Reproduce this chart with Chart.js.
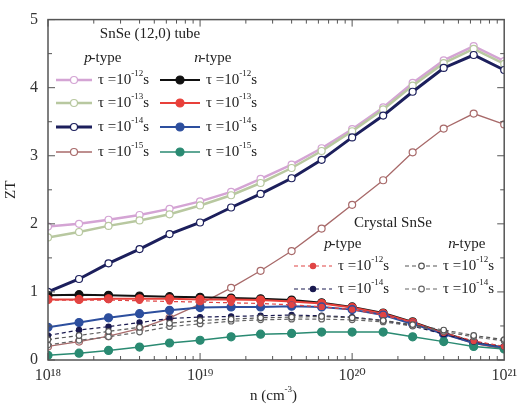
<!DOCTYPE html>
<html>
<head>
<meta charset="utf-8">
<script src="https://cdn.jsdelivr.net/npm/chart.js@4"></script>
<style>
  html, body { margin:0; padding:0; background:#fff; }
  #wrap { width:523px; height:408px; position:relative; }
</style>
</head>
<body>
<div id="wrap"><canvas id="zt"></canvas></div>
<script>
// carrier concentration n (cm^-3)
const nValues = [1.0e18, 1.6e18, 2.5e18, 4.0e18, 6.3e18, 1.0e19, 1.6e19, 2.5e19,
                 4.0e19, 6.3e19, 1.0e20, 1.6e20, 2.5e20, 4.0e20, 6.3e20, 1.0e21];

// SnSe (12,0) tube, p-type
const tubeP12 = [1.96, 2.00, 2.06, 2.13, 2.22, 2.33, 2.47, 2.66, 2.87, 3.11, 3.39, 3.71, 4.07, 4.40, 4.61, 4.39];
const tubeP13 = [1.80, 1.88, 1.97, 2.05, 2.14, 2.27, 2.42, 2.60, 2.82, 3.07, 3.36, 3.68, 4.03, 4.36, 4.57, 4.35];
const tubeP14 = [1.00, 1.19, 1.42, 1.63, 1.85, 2.02, 2.24, 2.44, 2.67, 2.94, 3.27, 3.59, 3.94, 4.29, 4.48, 4.26];
const tubeP15 = [0.20, 0.27, 0.35, 0.46, 0.62, 0.82, 1.06, 1.31, 1.60, 1.93, 2.28, 2.64, 3.05, 3.40, 3.62, 3.46];

// SnSe (12,0) tube, n-type
const tubeN12 = [0.95, 0.96, 0.95, 0.94, 0.93, 0.92, 0.91, 0.90, 0.88, 0.84, 0.78, 0.69, 0.56, 0.40, 0.26, 0.18];
const tubeN13 = [0.89, 0.89, 0.90, 0.90, 0.90, 0.89, 0.89, 0.88, 0.86, 0.83, 0.77, 0.68, 0.55, 0.39, 0.25, 0.17];
const tubeN14 = [0.48, 0.55, 0.62, 0.68, 0.73, 0.77, 0.78, 0.78, 0.79, 0.78, 0.74, 0.66, 0.53, 0.38, 0.25, 0.18];
const tubeN15 = [0.07, 0.10, 0.14, 0.19, 0.25, 0.29, 0.34, 0.38, 0.39, 0.41, 0.41, 0.41, 0.34, 0.27, 0.20, 0.16];

// crystal SnSe
const crysP12 = [0.88, 0.88, 0.88, 0.87, 0.86, 0.85, 0.84, 0.83, 0.81, 0.78, 0.74, 0.66, 0.55, 0.40, 0.28, 0.20];
const crysP14 = [0.36, 0.44, 0.49, 0.55, 0.61, 0.63, 0.64, 0.65, 0.66, 0.65, 0.63, 0.58, 0.50, 0.38, 0.27, 0.20];
const crysN12 = [0.30, 0.36, 0.42, 0.48, 0.54, 0.58, 0.60, 0.62, 0.63, 0.64, 0.62, 0.58, 0.52, 0.44, 0.36, 0.30];
const crysN14 = [0.22, 0.29, 0.34, 0.41, 0.49, 0.53, 0.57, 0.59, 0.60, 0.60, 0.59, 0.56, 0.50, 0.42, 0.34, 0.28];

const yTicks = [0, 1, 2, 3, 4, 5];
const xTickLabels = { 18: "10\u00b9\u2078", 19: "10\u00b9\u2079", 20: "10\u00b2\u2070", 21: "10\u00b2\u00b9" };

const SERIF = '"Liberation Serif", "DejaVu Serif", serif';
const pts = arr => arr.map((v, i) => ({ x: nValues[i], y: v }));

function line(label, arr, color, o) {
  return Object.assign({
    label, data: pts(arr), borderColor: color, backgroundColor: color,
    pointBorderColor: color, pointBackgroundColor: "#fff",
    borderWidth: 1.5, pointRadius: 3.5, pointBorderWidth: 1.2, pointStyle: "circle", tension: 0
  }, o || {});
}

const datasets = [
  line("crys n 12", crysN12, "#555", { borderDash:[4,3], pointRadius:2.8, borderWidth:1.2 }),
  line("crys n 14", crysN14, "#666", { borderDash:[4,3], pointRadius:2.8, borderWidth:1.2 }),
  line("crys p 12", crysP12, "#e04545", { borderDash:[4,3], pointRadius:2.6, pointBackgroundColor:"#e04545", borderWidth:1.2 }),
  line("crys p 14", crysP14, "#1a1a50", { borderDash:[4,3], pointRadius:2.6, pointBackgroundColor:"#1a1a50", borderWidth:1.2 }),
  line("tube n 15", tubeN15, "#2a8a72", { pointBackgroundColor:"#2a8a72", pointRadius:4 }),
  line("tube n 14", tubeN14, "#2d4f9e", { pointBackgroundColor:"#2d4f9e", pointRadius:4, borderWidth:2 }),
  line("tube n 13", tubeN13, "#e8403a", { pointBackgroundColor:"#e8403a", pointRadius:4, borderWidth:2 }),
  line("tube n 12", tubeN12, "#111", { pointBackgroundColor:"#111", pointRadius:4, borderWidth:2 }),
  line("tube p 15", tubeP15, "#a86a6a", { borderWidth:1.3 }),
  line("tube p 14", tubeP14, "#1c1f5c", { borderWidth:3 }),
  line("tube p 13", tubeP13, "#b8c8a0", { borderWidth:2.5 }),
  line("tube p 12", tubeP12, "#d4a4d4", { borderWidth:2.5 })
];

// superscript text helper
function supText(ctx, x, y, base, exp, tail, size) {
  ctx.font = size + "px " + SERIF;
  ctx.fillText(base, x, y);
  x += ctx.measureText(base).width;
  ctx.font = Math.round(size * 0.62) + "px " + SERIF;
  ctx.fillText(exp, x, y - size * 0.42);
  x += ctx.measureText(exp).width;
  ctx.font = size + "px " + SERIF;
  ctx.fillText(tail, x, y);
}

function sample(ctx, x0, x1, y, ds) {
  ctx.save();
  ctx.strokeStyle = ds.borderColor;
  ctx.lineWidth = ds.borderWidth;
  ctx.setLineDash(ds.borderDash || []);
  ctx.beginPath(); ctx.moveTo(x0, y); ctx.lineTo(x1, y); ctx.stroke();
  ctx.setLineDash([]);
  ctx.beginPath();
  ctx.arc((x0 + x1) / 2, y, ds.pointRadius, 0, Math.PI * 2);
  ctx.fillStyle = ds.pointBackgroundColor;
  ctx.fill();
  ctx.lineWidth = ds.pointBorderWidth;
  ctx.strokeStyle = ds.pointBorderColor;
  ctx.stroke();
  ctx.restore();
}

const frame = {
  id: "frame",
  afterDatasetsDraw(chart) {
    const { ctx, chartArea: a, scales } = chart;
    const xs = scales.x, ys = scales.y;
    ctx.save();
    ctx.strokeStyle = "#555";
    ctx.lineWidth = 1.5;
    ctx.strokeRect(a.left, a.top, a.right - a.left, a.bottom - a.top);
    ctx.lineWidth = 1;
    ctx.beginPath();
    for (let d = 18; d < 21; d++) {
      for (let m = 1; m < 10; m++) {
        const px = xs.getPixelForValue(m * Math.pow(10, d));
        const len = m === 1 ? 7 : 4;
        ctx.moveTo(px, a.bottom); ctx.lineTo(px, a.bottom - len);
        ctx.moveTo(px, a.top); ctx.lineTo(px, a.top + len);
      }
    }
    for (let v = 0; v <= 5; v += 0.5) {
      const py = ys.getPixelForValue(v);
      const len = Number.isInteger(v) ? 7 : 4;
      ctx.moveTo(a.left, py); ctx.lineTo(a.left + len, py);
      ctx.moveTo(a.right, py); ctx.lineTo(a.right - len, py);
    }
    ctx.stroke();

    // legends
    const byLabel = {};
    chart.data.datasets.forEach(ds => byLabel[ds.label] = ds);
    ctx.fillStyle = "#222";
    ctx.textBaseline = "middle";
    ctx.textAlign = "center";
    ctx.font = "15px " + SERIF;
    ctx.fillText("SnSe (12,0) tube", 150, 34);
    ctx.font = "italic 15px " + SERIF;
    ctx.fillText("p", 88, 58);
    ctx.font = "15px " + SERIF;
    ctx.fillText("-type", 106, 58);
    ctx.font = "italic 15px " + SERIF;
    ctx.fillText("n", 198, 58);
    ctx.font = "15px " + SERIF;
    ctx.fillText("-type", 216, 58);
    ctx.textAlign = "left";
    const rows = [80, 103, 127, 152];
    const exps = ["-12", "-13", "-14", "-15"];
    const pKeys = ["tube p 12", "tube p 13", "tube p 14", "tube p 15"];
    const nKeys = ["tube n 12", "tube n 13", "tube n 14", "tube n 15"];
    rows.forEach((y, i) => {
      sample(ctx, 56, 92, y, byLabel[pKeys[i]]);
      ctx.fillStyle = "#222";
      supText(ctx, 98, y, "\u03c4 =10", exps[i], "s", 15);
      sample(ctx, 160, 200, y, byLabel[nKeys[i]]);
      ctx.fillStyle = "#222";
      supText(ctx, 206, y, "\u03c4 =10", exps[i], "s", 15);
    });

    ctx.textAlign = "center";
    ctx.font = "15px " + SERIF;
    ctx.fillText("Crystal SnSe", 393, 223);
    ctx.font = "italic 15px " + SERIF;
    ctx.fillText("p", 328, 244);
    ctx.font = "15px " + SERIF;
    ctx.fillText("-type", 346, 244);
    ctx.font = "italic 15px " + SERIF;
    ctx.fillText("n", 452, 244);
    ctx.font = "15px " + SERIF;
    ctx.fillText("-type", 470, 244);
    ctx.textAlign = "left";
    const cRows = [266, 289];
    const cExps = ["-12", "-14"];
    const cp = ["crys p 12", "crys p 14"], cn = ["crys n 12", "crys n 14"];
    cRows.forEach((y, i) => {
      sample(ctx, 294, 332, y, byLabel[cp[i]]);
      ctx.fillStyle = "#222";
      supText(ctx, 338, y, "\u03c4 =10", cExps[i], "s", 15);
      sample(ctx, 405, 438, y, byLabel[cn[i]]);
      ctx.fillStyle = "#222";
      supText(ctx, 443, y, "\u03c4 =10", cExps[i], "s", 15);
    });

    // x title with superscript
    ctx.fillStyle = "#222";
    supText(ctx, 250, 396, "n (cm", "-3", ")", 15);
    ctx.restore();
  }
};

new Chart(document.getElementById("zt").getContext("2d"), {
  type: "line",
  data: { datasets },
  options: {
    responsive: true, maintainAspectRatio: false, animation: false,
    layout: { padding: { top: 16, right: 10, left: 0, bottom: 0 } },
    plugins: { legend: { display: false }, tooltip: { enabled: false } },
    scales: {
      x: {
        type: "logarithmic", min: 1e18, max: 1e21,
        grid: { display: false, drawTicks: false },
        border: { display: false },
        afterFit: s => { s.height = 48; },
        afterBuildTicks: s => { s.ticks = [18, 19, 20, 21].map(d => ({ value: Math.pow(10, d) })); },
        ticks: {
          autoSkip: false, maxRotation: 0, padding: 6, color: "#333",
          font: { family: SERIF, size: 16 },
          callback: v => xTickLabels[Math.round(Math.log10(v))] || ""
        }
      },
      y: {
        min: 0, max: 5,
        grid: { display: false, drawTicks: false },
        border: { display: false },
        afterFit: s => { s.width = 48; },
        afterBuildTicks: s => { s.ticks = yTicks.map(v => ({ value: v })); },
        ticks: { padding: 10, color: "#333", font: { family: SERIF, size: 16 } },
        title: { display: true, text: "ZT", color: "#222", font: { family: SERIF, size: 15 }, padding: 2 }
      }
    }
  },
  plugins: [frame]
});
</script>
</body>
</html>
